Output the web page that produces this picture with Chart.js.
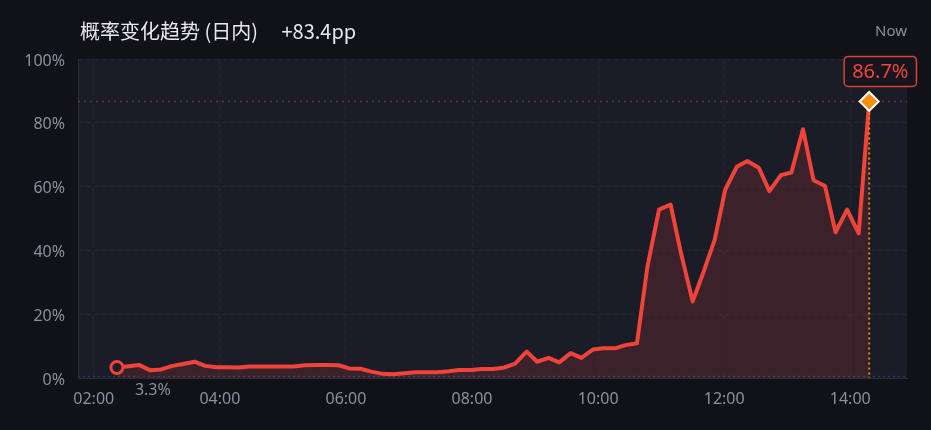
<!DOCTYPE html>
<html>
<head>
<meta charset="utf-8">
<script src="https://cdn.jsdelivr.net/npm/chart.js"></script>
<style>
  html, body { margin: 0; padding: 0; background: #111217; }
  #wrap { position: relative; width: 931px; height: 430px; }
  #title {
    position: absolute; left: 80px; top: 20px;
    font: 20px/22px 'Noto Sans CJK SC', 'Noto Sans', sans-serif;
    color: #e9e9ec; white-space: pre;
  }
  #title-change { margin-left: 19px; }
  #now {
    position: absolute; right: 24px; top: 20px;
    font: 15px/20px 'Noto Sans', sans-serif; color: #8b90a0;
  }
</style>
</head>
<body>
<div id="wrap">
  <canvas id="trend-chart" width="931" height="430"></canvas>
  <div id="title"><span id="title-main"></span> <span id="title-change"></span></div>
  <div id="now">Now</div>
</div>
<script>
// intraday probability samples (time of day, %)
const times = ['02:22','02:33','02:43','02:54','03:04','03:15','03:25','03:36','03:46','03:57',
	'04:07','04:18','04:28','04:39','04:49','05:00','05:10','05:21','05:32','05:42',
	'05:53','06:03','06:14','06:24','06:35','06:45','06:56','07:06','07:17','07:27',
	'07:38','07:48','07:59','08:09','08:20','08:31','08:41','08:52','09:02','09:13',
	'09:23','09:34','09:44','09:55','10:05','10:16','10:26','10:37','10:47','10:58',
	'11:09','11:19','11:30','11:40','11:51','12:01','12:12','12:22','12:33','12:43',
	'12:54','13:04','13:15','13:25','13:36','13:46','13:57','14:08','14:18'];

const probability = [3.3, 3.7, 4.1, 2.4, 2.7, 3.8, 4.4, 5.1, 3.8, 3.4,
	3.4, 3.3, 3.6, 3.6, 3.6, 3.6, 3.6, 4.0, 4.1, 4.1,
	4.0, 3.0, 2.9, 2.0, 1.3, 1.2, 1.5, 1.8, 1.8, 1.8,
	2.1, 2.5, 2.5, 2.8, 2.8, 3.3, 4.5, 8.3, 5.1, 6.3,
	4.9, 7.8, 6.3, 8.9, 9.3, 9.3, 10.3, 10.9, 35, 52.8,
	54.4, 39, 24, 32.9, 43.4, 59.1, 66.2, 68, 65.9, 58.6,
	63.6, 64.4, 78, 62, 60.2, 45.7, 52.8, 45.3, 86.7];

const xTickHours = ['02:00', '04:00', '06:00', '08:00', '10:00', '12:00', '14:00'];
const yTicks = [0, 20, 40, 60, 80, 100];

const titleText = '概率变化趋势 (日内)';

const toMin = (s) => Number(s.slice(0, 2)) * 60 + Number(s.slice(3));
const fmtTime = (m) => String(Math.floor(m / 60)).padStart(2, '0') + ':' + String(m % 60).padStart(2, '0');

const lastIdx = probability.length - 1;
const change = probability[lastIdx] - probability[0];
document.getElementById('title-main').textContent = titleText;
document.getElementById('title-change').textContent = (change >= 0 ? '+' : '') + change.toFixed(1) + 'pp';

const points = times.map((t, i) => ({ x: toMin(t), y: probability[i] }));

const RED = '#f0443a';
const PLOT_BG = '#1a1c27';

// background + reference lines + value labels
const overlay = {
	id: 'overlay',
	beforeDraw(chart) {
		const { ctx, chartArea: a } = chart;
		ctx.save();
		ctx.fillStyle = '#111217';
		ctx.fillRect(0, 0, chart.width, chart.height);
		ctx.fillStyle = PLOT_BG;
		ctx.fillRect(a.left, a.top, a.right - a.left, a.bottom - a.top);
		ctx.restore();
	},
	beforeDatasetsDraw(chart) {
		const { ctx, chartArea: a, scales } = chart;
		const y = scales.y.getPixelForValue(probability[lastIdx]);
		ctx.save();
		ctx.setLineDash([2, 4]);
		ctx.lineWidth = 1.5;
		ctx.strokeStyle = 'rgba(190, 60, 60, 0.6)';
		ctx.beginPath();
		ctx.moveTo(a.left, y);
		ctx.lineTo(a.right, y);
		ctx.stroke();
		// zero line
		ctx.setLineDash([2, 3]);
		ctx.strokeStyle = '#2a3a5e';
		const y0 = scales.y.getPixelForValue(0) - 1.5;
		ctx.beginPath();
		ctx.moveTo(a.left, y0);
		ctx.lineTo(a.right, y0);
		ctx.stroke();
		ctx.restore();
	},
	afterDatasetsDraw(chart) {
		const { ctx, scales } = chart;
		const px = scales.x.getPixelForValue(points[lastIdx].x);
		const py = scales.y.getPixelForValue(points[lastIdx].y);
		const by = scales.y.getPixelForValue(0);
		ctx.save();
		ctx.setLineDash([2, 3]);
		ctx.lineWidth = 2;
		ctx.strokeStyle = '#e8890f';
		ctx.beginPath();
		ctx.moveTo(px, py + 11);
		ctx.lineTo(px, by);
		ctx.stroke();
		ctx.setLineDash([]);

		// current value box
		const label = probability[lastIdx].toFixed(1) + '%';
		ctx.font = '20px "Noto Sans", sans-serif';
		const tw = ctx.measureText(label).width;
		const bw = tw + 16, bh = 30;
		const bx = px - 25, byTop = py - 45;
		ctx.fillStyle = '#15161d';
		ctx.strokeStyle = '#d8413a';
		ctx.lineWidth = 1.5;
		ctx.beginPath();
		ctx.roundRect(bx, byTop, bw, bh, 4);
		ctx.fill();
		ctx.stroke();
		ctx.fillStyle = RED;
		ctx.textAlign = 'center';
		ctx.textBaseline = 'middle';
		ctx.fillText(label, bx + bw / 2, byTop + bh / 2 + 1);

		// start value
		const sx = scales.x.getPixelForValue(points[0].x);
		const sy = scales.y.getPixelForValue(points[0].y);
		ctx.font = '16px "Noto Sans", sans-serif';
		ctx.fillStyle = '#8b90a0';
		ctx.fillText(probability[0].toFixed(1) + '%', sx + 36, sy + 23);
		ctx.restore();
	},
};

Chart.defaults.font.family = "'Noto Sans', 'Noto Sans CJK SC', sans-serif";
Chart.defaults.font.size = 16;
Chart.defaults.color = '#8b90a0';

const ctx = document.getElementById('trend-chart');

new Chart(ctx, {
	type: 'line',
	data: {
		datasets: [{
			data: points,
			borderColor: RED,
			borderWidth: 4,
			borderJoinStyle: 'round',
			tension: 0,
			fill: 'origin',
			backgroundColor: 'rgba(240, 68, 58, 0.15)',
			pointStyle: (c) => (c.dataIndex === lastIdx ? 'rectRot' : 'circle'),
			pointRadius: (c) => (c.dataIndex === 0 ? 6 : c.dataIndex === lastIdx ? 9.5 : 0),
			pointBorderWidth: (c) => (c.dataIndex === lastIdx ? 2 : 3),
			pointBorderColor: (c) => (c.dataIndex === lastIdx ? '#ffffff' : RED),
			pointBackgroundColor: (c) => (c.dataIndex === lastIdx ? '#f5900f' : PLOT_BG),
			pointHoverRadius: 0,
		}],
	},
	options: {
		responsive: false,
		animation: false,
		layout: { padding: { top: 59, right: 24, bottom: 0, left: 0 } },
		plugins: { legend: { display: false }, tooltip: { enabled: false } },
		scales: {
			x: {
				type: 'linear',
				min: 105,
				max: 894,
				afterFit: (s) => { s.height = 52; },
				afterBuildTicks: (s) => { s.ticks = xTickHours.map((t) => ({ value: toMin(t) })); },
				ticks: {
					padding: 12,
					maxRotation: 0,
					callback: (v) => fmtTime(v),
				},
				grid: { color: 'rgba(255,255,255,0.05)', drawTicks: false },
				border: { color: '#2a2d3b', dash: [4, 4] },
			},
			y: {
				min: 0,
				max: 100,
				afterFit: (s) => { s.width = 78; },
				afterBuildTicks: (s) => { s.ticks = yTicks.map((v) => ({ value: v })); },
				ticks: {
					padding: 13,
					labelOffset: 2,
					callback: (v) => v + '%',
				},
				grid: { color: 'rgba(255,255,255,0.05)', drawTicks: false },
				border: { color: '#2a2d3b', dash: [4, 4] },
			},
		},
	},
	plugins: [overlay],
});
</script>
</body>
</html>
